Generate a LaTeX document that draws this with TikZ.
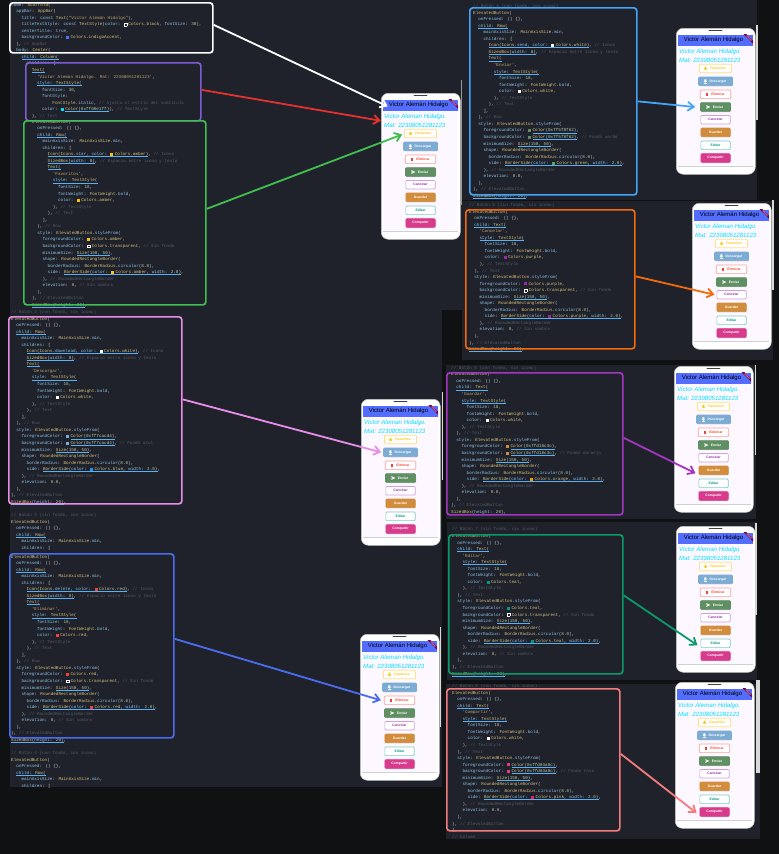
\documentclass[tikz,border=0pt]{standalone}
\usepackage{fontspec}
\setmainfont{Liberation Sans}
\newfontfamily\xcodefont{Liberation Mono}
\usetikzlibrary{arrows.meta,shapes.geometric,shadows}
\definecolor{pagebg}{HTML}{101113}
\definecolor{panelbg}{HTML}{1F222A}
\definecolor{codetxt}{HTML}{C8CCD2}
\definecolor{cprop}{HTML}{8FC3E8}
\definecolor{cclass}{HTML}{D9C27E}
\definecolor{cstr}{HTML}{C9A26D}
\definecolor{ccom}{HTML}{535A66}
\definecolor{cnum}{HTML}{B5CEA8}
\definecolor{amberc}{HTML}{FFC107}
\definecolor{dlblue}{HTML}{7CACD4}
\definecolor{sendgreen}{HTML}{5F8F62}
\definecolor{saveorange}{HTML}{D18C3C}
\definecolor{sharepink}{HTML}{D83A8C}
\definecolor{purplec}{HTML}{9C27B0}
\definecolor{tealc}{HTML}{009688}
\definecolor{redc}{HTML}{F44336}
\definecolor{bluec}{HTML}{2196F3}
\definecolor{greenc}{HTML}{4CAF50}
\definecolor{orangec}{HTML}{FF9800}
\definecolor{pinkc}{HTML}{E91E63}
\definecolor{skyc}{HTML}{00E1FF}
\definecolor{indigoc}{HTML}{536DFE}
\definecolor{screenbg}{HTML}{FDF7FF}
\definecolor{arW}{HTML}{FFFFFF}
\definecolor{arR}{HTML}{E53030}
\definecolor{arQ}{HTML}{7D5BD6}
\definecolor{arG}{HTML}{3FBF4F}
\definecolor{arP}{HTML}{E88EE8}
\definecolor{arB}{HTML}{4A6CF0}
\definecolor{arS}{HTML}{42A5F5}
\definecolor{arO}{HTML}{F26A0A}
\definecolor{arV}{HTML}{A335C0}
\definecolor{arT}{HTML}{0A9A6A}
\definecolor{arL}{HTML}{F47C7C}
\newdimen\xch \xch=2.58pt
\newcommand\xl[2]{\hspace*{\numexpr#1\relax\xch}#2\\}
\newcommand\xp[1]{\textcolor{cprop}{#1}}
\newcommand\xt[1]{\textcolor{cclass}{#1}}
\newcommand\xs[1]{\textcolor{cstr}{#1}}
\newcommand\xg[1]{\textcolor{ccom}{#1}}
\newcommand\xn[1]{\textcolor{cnum}{#1}}
\newcommand\xq[1]{\textcolor{#1}{\rule[-.3pt]{3pt}{3pt}}\kern1.4pt}
\newcommand\xh{{\fboxrule=.4pt\fboxsep=0pt\fcolorbox{white}{panelbg}{\rule{0pt}{2.4pt}\rule{2.4pt}{0pt}}}\kern1.4pt}
\newsavebox\xubox
\newcommand\xu[1]{\sbox\xubox{#1}\rlap{\textcolor{bluec!75}{\rule[-.9pt]{\wd\xubox}{.3pt}}}\usebox\xubox}
\newcommand\xelev{\xl{0}{\xt{ElevatedButton}(}\xl{2}{\xp{onPressed}: () \{\},}}
\newcommand\xtextcore[4]{%
\xl{#1}{\xs{'#2'},}%
\xl{#1}{\xu{\xp{style}: \xt{TextStyle}(}}%
\xl{#1+2}{\xp{fontSize}: \xn{18},}%
\xl{#1+2}{\xp{fontWeight}: \xt{FontWeight}.\xp{bold},}%
\xl{#1+2}{\xp{color}: #3\xt{#4},}%
\xl{#1}{), \xg{// TextStyle}}}
\newcommand\xrowbody[4]{%
\xl{2}{\xu{\xp{child}: \xt{Row}(}}%
\xl{4}{\xp{mainAxisSize}: \xt{MainAxisSize}.\xp{min},}%
\xl{4}{\xp{children}: [}%
\xl{6}{\xu{\xt{Icon}(\xt{Icons}.\xp{#1}, \xp{color}: #2\xt{#3})}, \xg{// Icono}}%
\xl{6}{\xu{\xt{SizedBox}(\xp{width}: \xn{8})}, \xg{// Espacio entre icono y texto}}%
\xl{6}{\xu{\xt{Text}(}}%
\xtextcore{8}{#4}{#2}{#3}%
\xl{6}{), \xg{// Text}}%
\xl{4}{],}%
\xl{2}{), \xg{// Row}}}
\newcommand\xtextonly[3]{%
\xl{2}{\xu{\xp{child}: \xt{Text}(}}%
\xtextcore{4}{#1}{#2}{#3}%
\xl{2}{), \xg{// Text}}}
\newcommand\xbstyle[5]{%
\xl{2}{\xp{style}: \xt{ElevatedButton}.\xp{styleFrom}(}%
\xl{4}{\xp{foregroundColor}: #1,}%
\xl{4}{\xp{backgroundColor}: #2,#3}%
\xl{4}{\xp{minimumSize}: \xu{\xt{Size}(\xn{150}, \xn{50})},}%
\xl{4}{\xp{shape}: \xt{RoundedRectangleBorder}(}%
\xl{6}{\xp{borderRadius}: \xt{BorderRadius}.\xp{circular}(\xn{8.0}),}%
\xl{6}{\xp{side}: \xu{\xt{BorderSide}(\xp{color}: #4, \xp{width}: \xn{2.0})},}%
\xl{4}{), \xg{// RoundedRectangleBorder}}%
\xl{4}{\xp{elevation}: #5}%
\xl{2}{),}%
\xl{0}{), \xg{// ElevatedButton}}}
\newcommand\xsized{\xl{0}{\xu{\xt{SizedBox}(\xp{height}: \xn{20})},}}
\newcommand\xrowopen{%
\xelev%
\xl{2}{\xu{\xp{child}: \xt{Row}(}}%
\xl{4}{\xp{mainAxisSize}: \xt{MainAxisSize}.\xp{min},}%
\xl{4}{\xp{children}: [}}
\tikzset{
  codeblock/.style={anchor=north west,inner sep=0pt,align=left,text=codetxt,
    font=\xcodefont\fontsize{4.3}{6.55}\selectfont},
  hlbox/.style={draw=#1,line width=1.7pt,rounded corners=3pt,anchor=north west,inner sep=0pt,fill=none},
  arr/.style={draw=#1,line width=1.8pt,-{Straight Barb[length=6pt,width=9pt]}},
  panel/.style={fill=panelbg,draw=none},
  btn/.style={rounded corners=1pt,minimum height=8.6pt,inner sep=0pt,line width=.7pt,
    font=\bfseries\fontsize{3.4}{3.6}\selectfont},
  btnline/.style={btn,fill=white,draw=#1},
  btnfill/.style={btn,fill=#1,draw=#1,text=white,drop shadow={shadow xshift=.5pt,shadow yshift=-.8pt,opacity=.35}},
  phonebody/.style={anchor=north west,fill=white,draw=black!25,line width=.5pt,rounded corners=7pt,
    minimum width=79pt,minimum height=146pt,inner sep=0pt},
  bartitle/.style={inner sep=0pt,text=black,font=\fontsize{6}{7}\selectfont},
  subtitle/.style={anchor=west,inner sep=0pt,align=left,text=skyc,font=\itshape\fontsize{6.1}{8.7}\selectfont},
  debugtag/.style={rotate=-45,fill=black!30!red!70!blue,text=white,inner sep=.4pt,minimum width=20pt,
    font=\bfseries\fontsize{1.9}{2}\selectfont},
}
\newcommand\xphone[3]{%
\begin{scope}[shift={(#2,#3)},name prefix=#1-]
  \node[phonebody] (body) at (0,0) {};
  \draw[black!75,line width=.8pt,line cap=round] (33,2.7) -- (46,2.7);
  \fill[screenbg] (2.3,6.7) rectangle (77,138);
  \fill[black!18] (2.3,138) rectangle (77,139);
  \fill[indigoc] (2.3,6.7) rectangle (77,18.3);
  \node[bartitle] (bar) at (37.5,12.4) {Victor Alemán Hidalgo};
  \begin{scope}
    \clip (2.3,6.7) rectangle (77,18.3);
    \node[debugtag] (debug) at (73.2,10.4) {DEBUG};
  \end{scope}
  \node[subtitle] (sub) at (3,27.8) {Victor Aleman Hidalgo.\\Mat: 22308051281123};
  \node[btnline=amberc!50,text=amberc,minimum width=32pt] (fav) at (39.5,40.5) {\hspace*{5pt}Favoritos};
  \node[star,star points=5,star point ratio=2.4,fill=amberc,inner sep=0pt,minimum size=4.4pt] (favicon) at (29.5,40.5) {};
  \node[btnfill=dlblue,minimum width=34pt] (dl) at (39.5,53.3) {\hspace*{5pt}Descargar};
  \fill[white] (28.4,51.3) -- (30.4,51.3) -- (30.4,53) -- (31.2,53) -- (29.4,54.6) -- (27.6,53) -- (28.4,53) -- cycle;
  \fill[white] (27.6,55) rectangle (31.2,55.6);
  \node[btnline=redc!50,text=redc,minimum width=30.5pt] (del) at (39.5,66.3) {\hspace*{5pt}Eliminar};
  \fill[redc] (29.5,64.5) rectangle (31.9,68.1);
  \node[btnfill=sendgreen,minimum width=30pt] (send) at (39.5,79) {\hspace*{5pt}Enviar};
  \fill[white] (30.4,77.2) -- (34.4,79) -- (30.4,80.8) -- (30.4,79.6) -- (32.4,79) -- (30.4,78.4) -- cycle;
  \node[btnline=purplec!45,text=purplec,minimum width=29.3pt] (cancel) at (39.5,91.7) {Cancelar};
  \node[btnfill=saveorange,minimum width=29.3pt] (save) at (39.5,104.3) {Guardar};
  \node[btnline=tealc!50,text=tealc,minimum width=29.3pt] (edit) at (39.5,117.3) {Editar};
  \node[btnfill=sharepink,minimum width=29.3pt] (share) at (39.5,130) {Compartir};
\end{scope}}
\begin{document}
\begin{tikzpicture}[x=1pt,y=-1pt]
\useasboundingbox (0,0) rectangle (779,854);
\fill[pagebg] (0,0) rectangle (779,854);
% panels
\fill[panel] (10,0) rectangle (462,310);
\fill[panel] (10,310) rectangle (442,787);
\fill[panel] (462,0) rectangle (757,200);
\fill[panel] (462,201) rectangle (773,360);
\fill[panel] (446,365) rectangle (756,519);
\fill[panel] (447,522) rectangle (757,680);
\fill[panel] (446,684) rectangle (760,839);
% scroll bars and side strip
\fill[black!40] (460.5,80) rectangle (462,205);
\fill[white!85!black] (440,627) rectangle (441.2,727);
\fill[white!85!black] (442,392) rectangle (443.2,480);
\fill[white!85!black] (756,25) rectangle (758,120);
\fill[white!85!black] (772,200) rectangle (774,290);
\fill[white!85!black] (754.5,365) rectangle (756,455);
\fill[white!85!black] (755,523) rectangle (757,615);
\fill[black!15] (756,680) rectangle (760,773);
% code
\node[codeblock] (cHome) at (11,2.7) {%
\xl{0}{\xp{home}: \xt{Scaffold}(}%
\xl{2}{\xp{appBar}: \xt{AppBar}(}%
\xl{4}{\xp{title}: \xp{const} \xt{Text}(\xs{"Victor Alemán Hidalgo"}),}%
\xl{4}{\xp{titleTextStyle}: \xp{const} \xt{TextStyle}(\xp{color}: \xh\xt{Colors.black}, \xp{fontSize}: \xn{30}),}%
\xl{4}{\xp{centerTitle}: \xp{true},}%
\xl{4}{\xp{backgroundColor}: \xq{indigoc}\xt{Colors.indigoAccent},}%
\xl{2}{), \xg{// AppBar}}%
\xl{2}{\xp{body}: \xt{Center}(}%
\xl{4}{\xu{\xp{child}: \xt{Column}(}}%
\xl{6}{\xp{children}: [}%
\xl{8}{\xu{\xt{Text}(}}%
\xl{10}{\xs{'Victor Aleman Hidalgo. Mat: 22308051281123'},}%
\xl{10}{\xu{\xp{style}: \xt{TextStyle}(}}%
\xl{12}{\xp{fontSize}: \xn{30},}%
\xl{12}{\xp{fontStyle}:}%
\xl{16}{\xt{FontStyle}.\xp{italic}, \xg{// Ajusta el estilo del subtítulo}}%
\xl{12}{\xp{color}: \xq{skyc}\xu{\xt{Color}(\xn{0xff00e1ff})}), \xg{// TextStyle}}%
\xl{8}{), \xg{// Text}}};
\node[codeblock] (cFav) at (32,119.7) {%
\xelev%
\xrowbody{star}{\xq{amberc}}{Colors.amber}{Favoritos}%
\xbstyle{\xq{amberc}\xt{Colors.amber}}{\xh\xt{Colors.transparent}}{ \xg{// Sin fondo}}{\xq{amberc}\xt{Colors.amber}}{\xn{0}, \xg{// Sin sombra}}%
\xsized};
\node[codeblock] (cTwo) at (11,310) {\xg{// Botón 2 (con fondo, con icono)}};
\node[codeblock] (cDesc) at (11,316.7) {%
\xelev%
\xrowbody{download}{\xq{white}}{Colors.white}{Descargar}%
\xbstyle{\xq{dlblue}\xu{\xt{Color}(\xn{0xff7cacd4})}}{\xq{dlblue}\xu{\xt{Color}(\xn{0xff7cacd4})}}{ \xg{// Fondo azul}}{\xq{bluec}\xt{Colors.blue}}{\xn{0.0},}%
\xsized%
\xl{0}{}%
\xl{0}{\xg{// Botón 3 (sin fondo, con icono)}}%
\xrowopen};
\node[codeblock] (cElim) at (11,554.7) {%
\xelev%
\xrowbody{delete}{\xq{redc}}{Colors.red}{Eliminar}%
\xbstyle{\xq{redc}\xt{Colors.red}}{\xh\xt{Colors.transparent}}{ \xg{// Sin fondo}}{\xq{redc}\xt{Colors.red}}{\xn{0}, \xg{// Sin sombra}}%
\xsized%
\xl{0}{}%
\xl{0}{\xg{// Botón 4 (con fondo, con icono)}}%
\xrowopen};
\node[codeblock] (cEnv) at (473,4.2) {%
\xl{0}{\xg{// Botón 4 (con fondo, con icono)}}%
\xelev%
\xrowbody{send}{\xq{white}}{Colors.white}{Enviar}%
\xbstyle{\xq{sendgreen}\xu{\xt{Color}(\xn{0xff5f8f62})}}{\xq{sendgreen}\xu{\xt{Color}(\xn{0xff5f8f62})}}{ \xg{// Fondo verde}}{\xq{greenc}\xt{Colors.green}}{\xn{0.0},}%
\xsized};
\node[codeblock] (cCan) at (469,203.2) {%
\xl{0}{\xg{// Botón 5 (sin fondo, sin icono)}}%
\xelev%
\xtextonly{Cancelar}{\xq{purplec}}{Colors.purple}%
\xbstyle{\xq{purplec}\xt{Colors.purple}}{\xh\xt{Colors.transparent}}{ \xg{// Sin fondo}}{\xq{purplec}\xt{Colors.purple}}{\xn{0}, \xg{// Sin sombra}}%
\xsized};
\node[codeblock] (cGua) at (451,366) {%
\xl{0}{\xg{// Botón 6 (con fondo, sin icono)}}%
\xelev%
\xtextonly{Guardar}{\xq{white}}{Colors.white}%
\xbstyle{\xq{saveorange}\xu{\xt{Color}(\xn{0xffd18c3c})}}{\xq{saveorange}\xu{\xt{Color}(\xn{0xffd18c3c})}}{ \xg{// Fondo naranja}}{\xq{orangec}\xt{Colors.orange}}{\xn{0.0},}%
\xsized};
\node[codeblock] (cEdi) at (452,527.6) {%
\xl{0}{\xg{// Botón 7 (sin fondo, sin icono)}}%
\xelev%
\xtextonly{Editar}{\xq{tealc}}{Colors.teal}%
\xbstyle{\xq{tealc}\xt{Colors.teal}}{\xh\xt{Colors.transparent}}{ \xg{// Sin fondo}}{\xq{tealc}\xt{Colors.teal}}{\xn{0}, \xg{// Sin sombra}}%
\xsized};
\node[codeblock] (cCom) at (452,684.2) {%
\xl{0}{\xg{// Botón 8 (con fondo, sin icono)}}%
\xelev%
\xtextonly{Compartir}{\xq{white}}{Colors.white}%
\xbstyle{\xq{sharepink}\xu{\xt{Color}(\xn{0xffd83a8c})}}{\xq{sharepink}\xu{\xt{Color}(\xn{0xffd83a8c})}}{ \xg{// Fondo rosa}}{\xq{pinkc}\xt{Colors.pink}}{\xn{0.0},}%
\xl{0}{],}%
\xl{0}{\xg{// Column}}};
% phones
\xphone{pa}{381}{93}
\xphone{pb}{361}{399}
\xphone{pc}{676}{28}
\xphone{pd}{692}{203}
\xphone{pe}{674}{366}
\xphone{pf}{676}{526}
\xphone{pg}{675}{682}
\xphone{ph}{360}{634}
% highlight boxes
\node[hlbox=arW,minimum width=203pt,minimum height=50pt] (bW) at (9,2) {};
\node[hlbox=arQ,minimum width=175pt,minimum height=58pt] (bR) at (25,62) {};
\node[hlbox=arG,minimum width=182pt,minimum height=184pt] (bG) at (23,120) {};
\node[hlbox=arP,minimum width=173pt,minimum height=187pt] (bP) at (8,316) {};
\node[hlbox=arB,minimum width=164pt,minimum height=184pt] (bB) at (9,553) {};
\node[hlbox=arS,minimum width=167pt,minimum height=187pt] (bS) at (469,7) {};
\node[hlbox=arO,minimum width=169pt,minimum height=139pt] (bO) at (465,209) {};
\node[hlbox=arV,minimum width=176pt,minimum height=142pt] (bV) at (446,372) {};
\node[hlbox=arT,minimum width=174pt,minimum height=139pt] (bT) at (448,534) {};
\node[hlbox=arL,minimum width=173pt,minimum height=142pt] (bL) at (446,688) {};
% connectors
\draw[arr=arW] ([yshift=3pt]bW.east) -- ([xshift=-1pt,yshift=-1pt]pa-bar.west);
\draw[arr=arR] ([yshift=2pt]bR.east) -- ([xshift=-3pt]pa-sub.west);
\draw[arr=arG] ([yshift=4pt]bG.east) -- ([xshift=-2pt,yshift=-1pt]pa-fav.west);
\draw[arr=arP] ([yshift=11pt]bP.east) -- ([xshift=-2pt]pb-dl.west);
\draw[arr=arB] ([yshift=7pt]bB.east) -- ([xshift=-3pt]ph-del.west);
\draw[arr=arS] (bS.east) -- ([xshift=-5pt]pc-send.west);
\draw[arr=arO] ([yshift=3pt]bO.east) -- ([xshift=-2pt]pd-cancel.west);
\draw[arr=arV] ([yshift=6pt]bV.east) -- ([xshift=-3pt,yshift=-3pt]pe-save.west);
\draw[arr=arT] ([yshift=9pt]bT.east) -- ([xshift=-3pt,yshift=-2pt]pf-edit.west);
\draw[arr=arL] ([yshift=6pt]bL.east) -- ([xshift=-3pt,yshift=-1pt]pg-share.west);
\end{tikzpicture}
\end{document}
